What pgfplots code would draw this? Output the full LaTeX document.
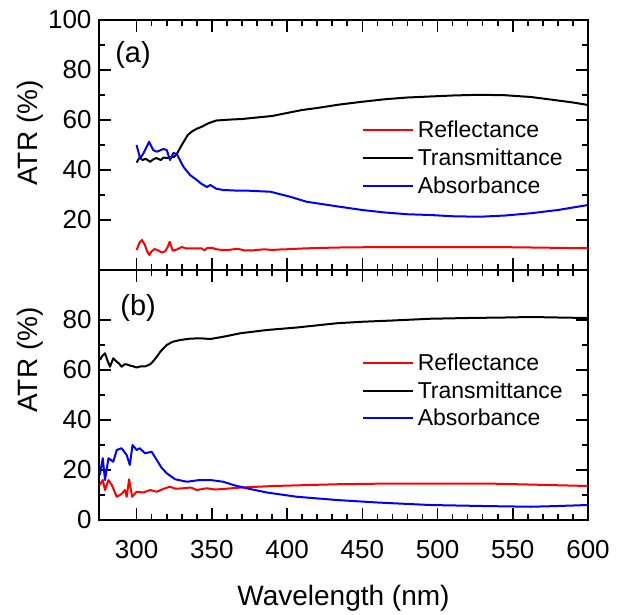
\documentclass[border=0pt]{standalone}
\usepackage{fontspec}
\setmainfont{Liberation Sans}
\usepackage{pgfplots}
\pgfplotsset{compat=1.18}

% one pt of the picture is one pixel of the reference
\pgfplotsset{
  atr/.style={
    width=489pt, height=250pt, scale only axis,
    xmin=275, xmax=600, ymin=0, ymax=100,
    xtick={300,350,...,600}, minor x tick num=4,
    minor y tick num=1,
    tick align=inside,
    major tick length=12pt, minor tick length=6pt,
    every tick/.style={black, line width=1.6pt},
    axis line style={line width=2pt},
    /pgf/number format/assume math mode=true,
    tick label style={font=\fontsize{26}{30}\selectfont},
    yticklabel style={xshift=-4pt},
    xticklabel style={yshift=-17pt},
    label style={font=\fontsize{28}{32}\selectfont},
    ylabel={ATR (\%)},
    legend style={draw=none, fill=none, inner sep=0pt, row sep=9.5pt,
      font=\fontsize{23}{27}\selectfont,
      nodes={inner xsep=4pt, inner ysep=0pt}},
    legend cell align=left,
    legend image code/.code={\draw[#1] (0pt,0pt) -- (50pt,0pt);},
    every axis plot/.append style={line width=2pt, line join=round},
  }
}

\begin{document}
\begin{tikzpicture}
\begin{axis}[atr, name=top, at={(0,0)}, anchor=south west,
    ytick={20,40,...,100}, xticklabels={},
    ylabel style={at={(axis description cs:-0.141,0.548)}, anchor=center},
    legend style={at={(axis description cs:0.537,0.596)}, anchor=north west}]
\addplot[red] coordinates {
(300,8) (302,11) (303.6,12) (305.5,10) (307,7.5) (308.5,6) (310,7.5) (312,8.4)
(314.5,7.8) (316.7,7) (319,7.5) (320.5,9) (322,11.3) (324,7.7) (326.7,8.2)
(330,9.2) (333,8.6) (336,8.7) (340,8.6) (343,8.7) (345,7.9) (347,8.8) (350,8.9)
(353,8.3) (357,8) (362,8.1) (367,8.5) (372,7.8) (378,7.9) (385,8.3) (390,8)
(395,8.2) (400,8.3) (410,8.6) (420,8.8) (435,9) (450,9.1) (500,9.2) (550,9.1)
(600,8.7)
};
\addplot[black] coordinates {
(300,43) (302,45) (304,44) (306,44.5) (309,43.3) (311,44.2) (313,44.8) (316,44)
(318,45) (320,44.8) (322,45) (325,45.3) (327,46.7) (330,50) (334,54) (337,55.5)
(340,56.5) (344,57.5) (347,58.5) (350,59.2) (353,59.8) (358,60) (363,60.2)
(370,60.4) (380,61) (390,61.6) (400,62.8) (410,64) (420,64.8) (435,66.2)
(450,67.3) (465,68.3) (480,69) (495,69.4) (510,69.8) (528,70.1) (545,69.9)
(562,69.2) (575,68.2) (590,67) (600,66)
};
\addplot[blue] coordinates {
(300,50) (302.3,44.7) (304.5,46.6) (308.3,51.3) (311,48) (313.4,47.3)
(317.8,48.4) (320,48) (322.2,44) (324.4,46.8) (326.7,46.4) (331.1,41.3)
(335.5,38) (340,36) (343,34.5) (346.7,33.2) (349,34) (353,32.5) (357.6,32)
(365,31.8) (375,31.7) (389,31.3) (402,29.3) (413,27.3) (435,25.3) (450,24)
(465,23) (480,22.3) (495,22) (510,21.5) (528,21.3) (545,21.8) (562,22.7)
(580,24) (600,26)
};
\legend{Reflectance, Transmittance, Absorbance}
\node[font=\fontsize{29}{33}\selectfont] at (axis description cs:0.0695,0.86) {(a)};
\end{axis}

\begin{axis}[atr, at={(top.south west)}, anchor=north west,
    ytick={0,20,...,80}, xlabel={Wavelength (nm)},
    xlabel style={at={(axis description cs:0.5,-0.34)}, anchor=base},
    ylabel style={at={(axis description cs:-0.141,0.64)}, anchor=center},
    legend style={at={(axis description cs:0.537,0.665)}, anchor=north west}]
\addplot[red] coordinates {
(275.5,14) (277.5,16) (279,12) (281.3,16) (283.5,14) (286.8,9.3) (290,10.4)
(292.3,12) (293.4,9.3) (295,16.3) (297,9.3) (300,11.3) (304.5,11) (309,12)
(313.4,11.3) (318,12.5) (322,13.3) (326,12.5) (331,12.7) (336,13) (340,12)
(346.6,12.7) (352,12.2) (357.6,12.4) (365,12.8) (373,13.1) (391,13.6)
(433,14.3) (470,14.6) (500,14.6) (540,14.5) (580,13.9) (600,13.6)
};
\addplot[black] coordinates {
(275.7,64) (277,65.5) (279,66.7) (280.5,64) (282.3,61.3) (284.5,64.7)
(286.8,63.3) (288.5,62.5) (290,61.3) (292,62.3) (293.4,62.3) (295.5,61.8)
(297.5,61.5) (300,61) (303,61.5) (306,61.5) (309,62.3) (311,63.5) (313.4,65.3)
(316,67.5) (320,70) (324,71.3) (329,72) (335,72.5) (342,72.7) (349,72.4)
(357.6,73.3) (369,74.7) (386.6,76) (406.5,77) (433,78.7) (450,79.3) (470,79.8)
(495,80.5) (520,80.8) (545,81) (562,81.2) (580,81) (600,80.8)
};
\addplot[blue] coordinates {
(275.5,18) (277.5,24.7) (279,16) (281.3,24.7) (284.5,23.3) (286.8,28) (290,28.7)
(293.4,26) (295.5,22) (297.3,30) (300,28) (302,28.7) (305.6,26.7) (310,27.3)
(313.4,24) (316.5,21) (320,18.7) (325.6,16.3) (333.4,15.3) (342,16) (349,16)
(357.6,15.3) (364.3,14) (373,12.7) (386.6,11) (406.5,9.3) (433,8) (460,7)
(495,6) (530,5.6) (562,5.3) (580,5.6) (600,6)
};
\legend{Reflectance, Transmittance, Absorbance}
\node[font=\fontsize{29}{33}\selectfont] at (axis description cs:0.080,0.85) {(b)};
\end{axis}
% keep the reference's margins
\path (-99pt,-338pt) rectangle (540pt,270pt);
\end{tikzpicture}
\end{document}
